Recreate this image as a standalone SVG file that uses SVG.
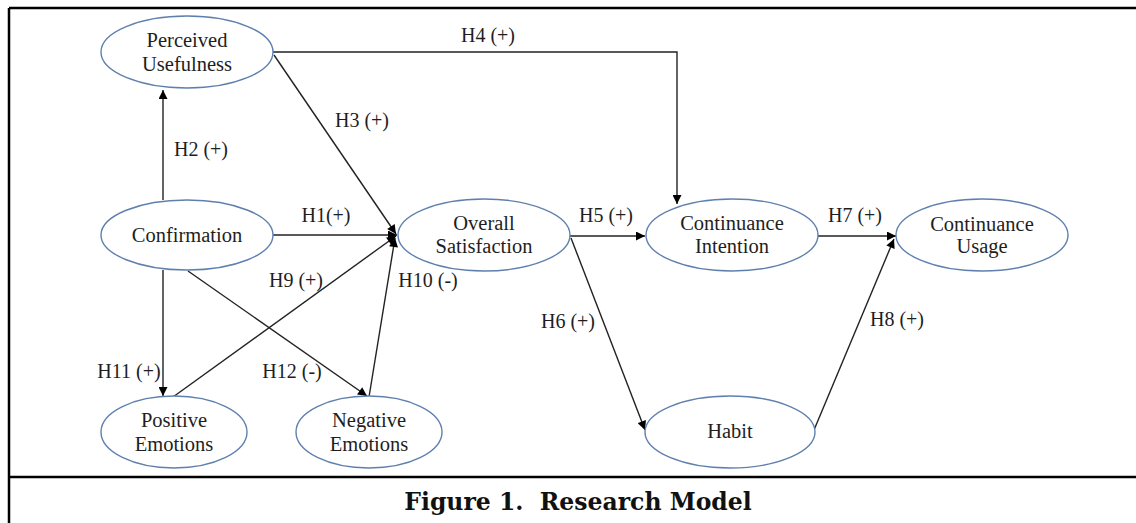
<svg xmlns="http://www.w3.org/2000/svg" width="1136" height="523" viewBox="0 0 1136 523">
<style>
.node ellipse{fill:#fff;stroke:#5f80ae;stroke-width:1.4}
.node text{font-family:"Liberation Serif","Times New Roman",serif;font-size:20.5px;fill:#1e1e1e;text-anchor:middle}
.lbl{font-family:"Liberation Serif","Times New Roman",serif;font-size:20px;fill:#1e1e1e;text-anchor:middle}
.edge{fill:none;stroke:#222;stroke-width:1.4}
.frame{stroke:#000;stroke-width:2.5;fill:none}
.cap{font-family:"DejaVu Serif",Georgia,serif;font-weight:bold;font-size:23.5px;fill:#111;text-anchor:middle;white-space:pre}
</style>
<defs>
<marker id="ah" viewBox="0 0 10 10" refX="10" refY="5" markerWidth="10" markerHeight="9" markerUnits="userSpaceOnUse" orient="auto">
<path d="M0,0 L10,5 L0,10 z" fill="#000"/>
</marker>
</defs>
<rect x="0" y="0" width="1136" height="523" fill="#fff"/>
<g id="frame">
<line class="frame" x1="9" y1="8" x2="1136" y2="8"/>
<line class="frame" x1="9" y1="8" x2="9" y2="523"/>
<line class="frame" x1="9" y1="477" x2="1136" y2="477"/>
</g>
<g id="connectors">
<polyline class="edge" points="273,52 677,52 677,204" marker-end="url(#ah)"/>
<line class="edge" x1="274" y1="55" x2="396" y2="234" marker-end="url(#ah)"/>
<line class="edge" x1="163" y1="200" x2="163" y2="90" marker-end="url(#ah)"/>
<line class="edge" x1="273" y1="235" x2="397" y2="235" marker-end="url(#ah)"/>
<line class="edge" x1="173" y1="397" x2="396" y2="236" marker-end="url(#ah)"/>
<line class="edge" x1="369" y1="397" x2="395" y2="238" marker-end="url(#ah)"/>
<line class="edge" x1="163" y1="270" x2="163" y2="396" marker-end="url(#ah)"/>
<line class="edge" x1="188" y1="271" x2="367" y2="396" marker-end="url(#ah)"/>
<line class="edge" x1="570" y1="236" x2="645" y2="236" marker-end="url(#ah)"/>
<line class="edge" x1="571" y1="238" x2="645" y2="430" marker-end="url(#ah)"/>
<line class="edge" x1="818" y1="236" x2="896" y2="236" marker-end="url(#ah)"/>
<line class="edge" x1="814" y1="430" x2="894" y2="239" marker-end="url(#ah)"/>
</g>
<g id="labels">
<text class="lbl" x="488" y="42">H4 (+)</text>
<text class="lbl" x="362" y="127">H3 (+)</text>
<text class="lbl" x="201" y="156">H2 (+)</text>
<text class="lbl" x="326" y="222">H1(+)</text>
<text class="lbl" x="606" y="222">H5 (+)</text>
<text class="lbl" x="855" y="222">H7 (+)</text>
<text class="lbl" x="428" y="287">H10 (-)</text>
<text class="lbl" x="296" y="287">H9 (+)</text>
<text class="lbl" x="129" y="378">H11 (+)</text>
<text class="lbl" x="292" y="378">H12 (-)</text>
<text class="lbl" x="568" y="328">H6 (+)</text>
<text class="lbl" x="897" y="326">H8 (+)</text>
</g>
<g id="perceived-usefulness" class="node">
<ellipse cx="187" cy="52" rx="86" ry="36"/>
<text x="187" y="47">Perceived</text>
<text x="187" y="71">Usefulness</text>
</g>
<g id="confirmation" class="node">
<ellipse cx="187" cy="235" rx="86" ry="35"/>
<text x="187" y="242">Confirmation</text>
</g>
<g id="overall-satisfaction" class="node">
<ellipse cx="484" cy="235" rx="86" ry="36"/>
<text x="484" y="230">Overall</text>
<text x="484" y="253">Satisfaction</text>
</g>
<g id="continuance-intention" class="node">
<ellipse cx="732" cy="235" rx="86" ry="36"/>
<text x="732" y="230">Continuance</text>
<text x="732" y="253">Intention</text>
</g>
<g id="continuance-usage" class="node">
<ellipse cx="982" cy="235" rx="86" ry="36"/>
<text x="982" y="231">Continuance</text>
<text x="982" y="253">Usage</text>
</g>
<g id="habit" class="node">
<ellipse cx="730" cy="432" rx="85" ry="36"/>
<text x="730" y="438">Habit</text>
</g>
<g id="positive-emotions" class="node">
<ellipse cx="174" cy="432" rx="73" ry="36"/>
<text x="174" y="427">Positive</text>
<text x="174" y="451">Emotions</text>
</g>
<g id="negative-emotions" class="node">
<ellipse cx="369" cy="432" rx="73" ry="36"/>
<text x="369" y="427">Negative</text>
<text x="369" y="451">Emotions</text>
</g>
<text class="cap" x="578" y="510">Figure 1.  Research Model</text>
</svg>
